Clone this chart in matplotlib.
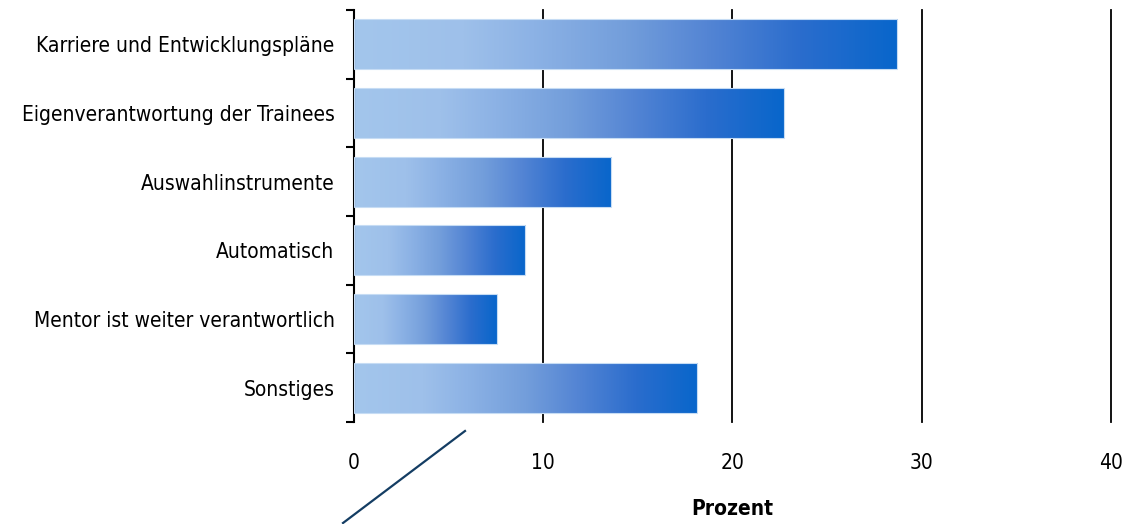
import numpy as np
import matplotlib.pyplot as plt
from matplotlib import font_manager
from matplotlib.colors import LinearSegmentedColormap
from matplotlib.lines import Line2D

# prefer a narrow sans face if one is around
names = {f.name for f in font_manager.fontManager.ttflist}
cond = [f for f in font_manager.fontManager.ttflist
        if f.stretch in ('condensed', 'semi-condensed') or 'Narrow' in f.name or 'Condensed' in f.name]
if 'Liberation Sans Narrow' in names:
    FAMILY, STRETCH = 'Liberation Sans Narrow', 'normal'
elif cond:
    FAMILY, STRETCH = cond[0].name, cond[0].stretch
else:
    FAMILY, STRETCH = 'Liberation Sans', 'normal'
plt.rcParams['font.family'] = [FAMILY, 'DejaVu Sans']
plt.rcParams['font.stretch'] = STRETCH

categories = ['Karriere und Entwicklungspläne', 'Eigenverantwortung der Trainees',
              'Auswahlinstrumente', 'Automatisch', 'Mentor ist weiter verantwortlich',
              'Sonstiges']
values = [28.7, 22.7, 13.6, 9.05, 7.55, 18.15]
xticks = [0, 10, 20, 30, 40]

# light to dark blue, stretched over each bar's own length
cmap = LinearSegmentedColormap.from_list('bar_blue', [
    (0.0, '#a3c6ec'), (0.2, '#9ec0ea'), (0.33, '#8cb2e5'), (0.5, '#739edb'),
    (0.65, '#5485d4'), (0.82, '#2b6dcd'), (1.0, '#0866cb')])
grad = np.tile(np.linspace(0, 1, 512), (2, 1))

fig = plt.figure(figsize=(11.37, 5.24), dpi=100)
ax = fig.add_axes([0.3113, 0.1947, 0.6658, 0.7862])

bar_h = 0.73
bars = ax.barh(range(len(categories)), values, height=bar_h, color='none',
               edgecolor='#c6dcf4', linewidth=0.8, zorder=3)
for bar, v in zip(bars, values):
    y0 = bar.get_y()
    im = ax.imshow(grad, cmap=cmap, aspect='auto', interpolation='bilinear',
                   extent=[0, v, y0 + bar_h + 0.02, y0 - 0.02], zorder=2)
    im.set_clip_path(bar)

ax.set_xlim(0, 40)
ax.set_ylim(len(categories) - 0.5, -0.5)

# vertical grid behind the bars
for t in xticks[1:]:
    ax.axvline(t, color='black', linewidth=1.3, zorder=1, clip_on=False)

fs = 15
ax.set_xticks(xticks)
ax.set_xticklabels([str(t) for t in xticks], fontsize=fs)
ax.tick_params(axis='x', length=0, pad=22)

ax.set_yticks(range(len(categories)))
ax.set_yticklabels(categories, fontsize=fs)
ax.tick_params(axis='y', which='major', length=0, pad=14)
ax.set_yticks(np.arange(-0.5, len(categories), 1), minor=True)
ax.tick_params(axis='y', which='minor', length=6, width=1.5, direction='out')

for s in ['top', 'right', 'bottom']:
    ax.spines[s].set_visible(False)
ax.spines['left'].set_linewidth(1.5)

ax.set_xlabel('Prozent', fontsize=fs, fontweight='bold', labelpad=19)

# stray connector line under the axis
fig.add_artist(Line2D([343 / 1137, 465 / 1137], [1 - 523 / 524, 1 - 431 / 524],
                      color='#143d63', linewidth=1.6))

fig.savefig('out.png', dpi=100)
